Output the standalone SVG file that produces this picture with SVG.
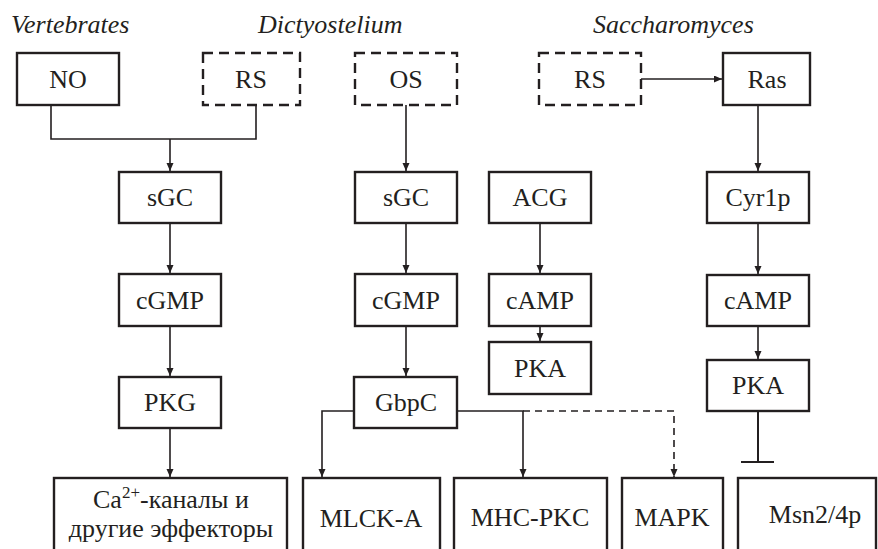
<svg xmlns="http://www.w3.org/2000/svg" width="878" height="549" viewBox="0 0 878 549">
  <style>
    .box { fill: #fff; stroke: #231f20; stroke-width: 2.4; }
    .dbox { fill: #fff; stroke: #231f20; stroke-width: 2.4; stroke-dasharray: 10 6; }
    .lbl { font-family: 'Liberation Serif', 'Times New Roman', serif; font-size: 26px; fill: #231f20; text-anchor: middle; }
    .title { font-family: 'Liberation Serif', 'Times New Roman', serif; font-size: 26px; font-style: italic; fill: #231f20; }
    .ln { fill: none; stroke: #231f20; stroke-width: 1.6; }
    .arr { marker-end: url(#ah); }
    .dash { stroke-dasharray: 7 5; }
  </style>
  <defs>
    <marker id="ah" markerUnits="userSpaceOnUse" markerWidth="9" markerHeight="8" refX="8" refY="3.5" orient="auto">
      <path d="M0,0 L8,3.5 L0,7 z" fill="#231f20"/>
    </marker>
  </defs>
  <rect width="878" height="549" fill="#fff"/>

  <!-- column titles -->
  <text class="title" x="11" y="33">Vertebrates</text>
  <text class="title" x="258" y="33">Dictyostelium</text>
  <text class="title" x="593" y="33">Saccharomyces</text>

  <!-- connectors -->
  <g id="connectors">
    <!-- vertebrates -->
    <path class="ln" d="M51,105 V139 H256 V105"/>
    <path class="ln arr" d="M170,139 V171"/>
    <path class="ln arr" d="M170,223 V273"/>
    <path class="ln arr" d="M170,326 V376"/>
    <path class="ln arr" d="M170,428 V477"/>
    <!-- dictyostelium -->
    <path class="ln arr" d="M406,105 V171"/>
    <path class="ln arr" d="M406,223 V273"/>
    <path class="ln arr" d="M406,326 V376"/>
    <path class="ln arr" d="M354,411 H322 V477"/>
    <path class="ln arr" d="M457,411 H523 V477"/>
    <path class="ln dash arr" d="M523,411 H674 V477"/>
    <path class="ln arr" d="M540,223 V273"/>
    <path class="ln arr" d="M540,326 V341"/>
    <!-- saccharomyces -->
    <path class="ln arr" d="M641,79 H722"/>
    <path class="ln arr" d="M758,105 V171"/>
    <path class="ln arr" d="M758,223 V274"/>
    <path class="ln arr" d="M758,326 V359"/>
    <path class="ln" d="M758,411 V462 M741,462 H774" style="stroke-width:2"/>
  </g>

  <!-- vertebrates nodes -->
  <g id="no"><rect class="box" x="17" y="53" width="102" height="52"/><text class="lbl" x="68" y="88">NO</text></g>
  <g id="rs1"><rect class="dbox" x="203" y="53" width="97" height="52"/><text class="lbl" x="251" y="88">RS</text></g>
  <g id="sgc1"><rect class="box" x="119" y="172" width="102" height="51"/><text class="lbl" x="170" y="206">sGC</text></g>
  <g id="cgmp1"><rect class="box" x="119" y="274" width="102" height="52"/><text class="lbl" x="170" y="309">cGMP</text></g>
  <g id="pkg"><rect class="box" x="119" y="377" width="102" height="51"/><text class="lbl" x="170" y="411">PKG</text></g>
  <g id="ca"><rect class="box" x="54" y="478" width="233" height="90"/>
    <text class="lbl" x="171" y="508">Ca<tspan font-size="17" dy="-10">2+</tspan><tspan dy="10">-каналы и</tspan></text>
    <text class="lbl" x="171" y="537">другие эффекторы</text></g>

  <!-- dictyostelium nodes -->
  <g id="os"><rect class="dbox" x="355" y="53" width="102" height="52"/><text class="lbl" x="406" y="88">OS</text></g>
  <g id="sgc2"><rect class="box" x="355" y="172" width="102" height="51"/><text class="lbl" x="406" y="206">sGC</text></g>
  <g id="cgmp2"><rect class="box" x="355" y="274" width="102" height="52"/><text class="lbl" x="406" y="309">cGMP</text></g>
  <g id="gbpc"><rect class="box" x="354" y="377" width="103" height="51"/><text class="lbl" x="406" y="411">GbpC</text></g>
  <g id="acg"><rect class="box" x="489" y="172" width="102" height="51"/><text class="lbl" x="540" y="206">ACG</text></g>
  <g id="camp1"><rect class="box" x="489" y="274" width="102" height="52"/><text class="lbl" x="540" y="309">cAMP</text></g>
  <g id="pka1"><rect class="box" x="489" y="342" width="102" height="52"/><text class="lbl" x="540" y="377">PKA</text></g>
  <g id="mlck"><rect class="box" x="303" y="478" width="137" height="90"/><text class="lbl" x="371" y="527">MLCK-A</text></g>
  <g id="mhcpkc"><rect class="box" x="454" y="478" width="153" height="90"/><text class="lbl" x="530" y="526">MHC-PKC</text></g>
  <g id="mapk"><rect class="box" x="622" y="478" width="101" height="90"/><text class="lbl" x="672" y="526">MAPK</text></g>

  <!-- saccharomyces nodes -->
  <g id="rs2"><rect class="dbox" x="539" y="53" width="102" height="52"/><text class="lbl" x="590" y="88">RS</text></g>
  <g id="ras"><rect class="box" x="723" y="53" width="87" height="52"/><text class="lbl" x="767" y="88">Ras</text></g>
  <g id="cyr1p"><rect class="box" x="707" y="172" width="102" height="51"/><text class="lbl" x="758" y="206">Cyr1p</text></g>
  <g id="camp2"><rect class="box" x="707" y="275" width="102" height="51"/><text class="lbl" x="758" y="309">cAMP</text></g>
  <g id="pka2"><rect class="box" x="707" y="360" width="102" height="51"/><text class="lbl" x="758" y="394">PKA</text></g>
  <g id="msn"><rect class="box" x="738" y="478" width="138" height="90"/><text class="lbl" x="815" y="523">Msn2/4p</text></g>
</svg>
